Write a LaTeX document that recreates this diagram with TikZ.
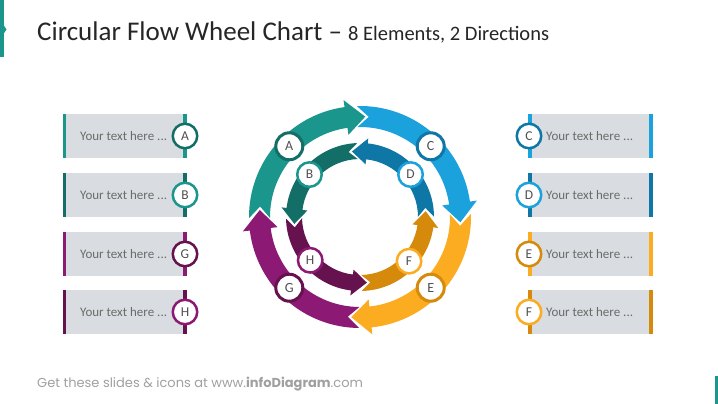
\documentclass[tikz,border=0pt]{standalone}
\usepackage{fontspec}
\setmainfont{Carlito}
\newfontfamily\footfont{Poppins}
\definecolor{tealA}{HTML}{1A968C}
\definecolor{tealB}{HTML}{136E68}
\definecolor{blueC}{HTML}{1BA1DB}
\definecolor{blueD}{HTML}{0E77A6}
\definecolor{orangeE}{HTML}{FBAC20}
\definecolor{orangeF}{HTML}{D68A0C}
\definecolor{purpleG}{HTML}{8C1A74}
\definecolor{purpleH}{HTML}{65124F}
\definecolor{boxgray}{HTML}{D9DCE0}
\definecolor{textgray}{HTML}{6B6B6B}
\definecolor{lettergray}{HTML}{505050}
\definecolor{titlegray}{HTML}{262626}
\definecolor{footgray}{HTML}{A0A0A0}
% ring arrow: colour, tail angle, tip angle, inner r, outer r, wing, head length, notch depth, gap
\newcommand{\ringarrow}[9]{%
  \pgfmathsetmacro{\arDir}{sign(#3-#2)}%
  \pgfmathsetmacro{\arTail}{#2+\arDir*(#9-#8)}%
  \pgfmathsetmacro{\arNotch}{#2+\arDir*#9}%
  \pgfmathsetmacro{\arBase}{#3-\arDir*#7}%
  \pgfmathsetmacro{\arMid}{(#4+#5)/2}%
  \pgfmathsetmacro{\arWo}{#5+#6}%
  \pgfmathsetmacro{\arWi}{#4-#6}%
  \fill[#1] (\arTail:#5) arc[start angle=\arTail, end angle=\arBase, radius=#5]
    -- (\arBase:\arWo) -- (#3:\arMid) -- (\arBase:\arWi) -- (\arBase:#4)
    arc[start angle=\arBase, end angle=\arTail, radius=#4] -- (\arNotch:\arMid) -- cycle;
}
\tikzset{
  keybig/.style={circle, fill=white, line width=3pt, minimum size=27pt, inner sep=0pt,
    text=lettergray, font=\fontsize{14}{14}\selectfont},
  keysmall/.style={keybig, line width=2.5pt, minimum size=24.5pt, font=\fontsize{13.5}{13.5}\selectfont},
  boxtext/.style={text=textgray, font=\fontsize{13}{13}\selectfont, anchor=west, inner sep=0pt}
}
\begin{document}
\begin{tikzpicture}[x=1pt,y=-1pt]
  \useasboundingbox (0,0) rectangle (718,404);
  \fill[white] (0,0) rectangle (718,404);
  % title
  \fill[tealA] (0,0) rectangle (3.5,57);
  \fill[tealA] (3.5,25) -- (6.5,29.5) -- (3.5,34) -- cycle;
  \node[anchor=base west, inner sep=0pt, text=titlegray] (title) at (37,41)
    {\fontsize{27}{30}\selectfont Circular Flow Wheel Chart – {\fontsize{20.5}{24}\selectfont 8 Elements, 2 Directions}};
  % wheel
  \begin{scope}[shift={(360,217)}, yscale=-1]
    \ringarrow{tealA}{176}{87}{90}{111}{7}{11}{6.6}{2}
    \ringarrow{blueC}{87}{-3}{90}{111}{7}{11}{6.6}{2}
    \ringarrow{orangeE}{-3}{-95}{90}{111}{7}{11}{6.6}{2}
    \ringarrow{purpleG}{-95}{-184}{90}{111}{7}{11}{6.6}{2}
    \ringarrow{tealB}{97}{186}{58}{74}{5}{13}{7.8}{3}
    \ringarrow{purpleH}{186}{276}{58}{74}{5}{13}{7.8}{3}
    \ringarrow{orangeF}{-84}{5}{58}{74}{5}{13}{7.8}{3}
    \ringarrow{blueD}{5}{97}{58}{74}{5}{13}{7.8}{3}
    \node[keybig, draw=tealB] (wA) at (135:100) {A};
    \node[keybig, draw=blueD] (wC) at (45:100) {C};
    \node[keybig, draw=orangeF] (wE) at (-45:100) {E};
    \node[keybig, draw=purpleH] (wG) at (-135:100) {G};
    \node[keysmall, draw=tealA] (wB) at (140:66) {B};
    \node[keysmall, draw=blueC] (wD) at (40:66) {D};
    \node[keysmall, draw=orangeE] (wF) at (-42:66) {F};
    \node[keysmall, draw=purpleG] (wH) at (-139:66) {H};
  \end{scope}
  % text boxes, left
  \foreach \yy/\lab/\barcol/\ringcol in {136/A/tealA/tealB, 195/B/tealB/tealA, 254/G/purpleG/purpleH, 312/H/purpleH/purpleG}{
    \fill[boxgray] (63,\yy-22) rectangle (187,\yy+22);
    \fill[\barcol] (63,\yy-22) rectangle (66,\yy+22);
    \fill[\barcol] (183,\yy-22) rectangle (187,\yy+22);
    \node[boxtext] (txt\lab) at (80,\yy) {Your text here ...};
    \node[keysmall, draw=\ringcol] (key\lab) at (185,\yy) {\lab};
  }
  % text boxes, right
  \foreach \yy/\lab/\barcol/\ringcol in {136/C/blueC/blueD, 195/D/blueD/blueC, 254/E/orangeE/orangeF, 312/F/orangeF/orangeE}{
    \fill[boxgray] (528,\yy-22) rectangle (653,\yy+22);
    \fill[\barcol] (528,\yy-22) rectangle (532,\yy+22);
    \fill[\barcol] (649,\yy-22) rectangle (653,\yy+22);
    \node[boxtext] (txt\lab) at (546,\yy) {Your text here ...};
    \node[keysmall, draw=\ringcol] (key\lab) at (529,\yy) {\lab};
  }
  % footer
  \node[anchor=base west, inner sep=0pt, text=footgray] (foot) at (37,387)
    {\footfont\fontsize{13}{13}\selectfont Get these slides \& icons at www.\textbf{infoDiagram}.com};
  \fill[tealA] (715,376) rectangle (718,404);
\end{tikzpicture}
\end{document}
